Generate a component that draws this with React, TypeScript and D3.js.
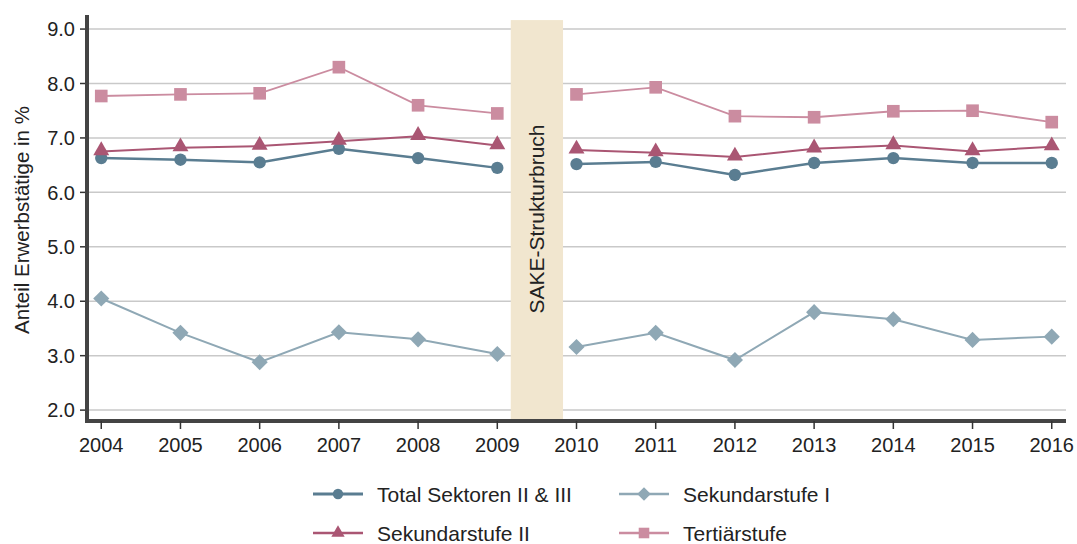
import * as d3 from 'd3'

const years = [2004, 2005, 2006, 2007, 2008, 2009, 2010, 2011, 2012, 2013, 2014, 2015, 2016]
const total = [6.63, 6.6, 6.55, 6.8, 6.63, 6.45, 6.52, 6.56, 6.32, 6.54, 6.63, 6.54, 6.54]
const sek1 = [4.05, 3.42, 2.88, 3.43, 3.3, 3.03, 3.16, 3.42, 2.92, 3.8, 3.67, 3.29, 3.35]
const sek2 = [6.75, 6.82, 6.85, 6.94, 7.03, 6.86, 6.78, 6.73, 6.65, 6.8, 6.86, 6.75, 6.84]
const tert = [7.77, 7.8, 7.82, 8.3, 7.6, 7.45, 7.8, 7.93, 7.4, 7.38, 7.49, 7.5, 7.29]
const yTicks = [2, 3, 4, 5, 6, 7, 8, 9]
const breakRange = [2009.17, 2009.83]

// diamond = square turned by 45°
const series = [
  { name: 'Total Sektoren II & III', values: total, color: '#5a7d91', symbol: d3.symbolCircle, size: 120, width: 2.5, rot: 0 },
  { name: 'Sekundarstufe I', values: sek1, color: '#8fa8b5', symbol: d3.symbolSquare, size: 130, width: 2, rot: 45 },
  { name: 'Sekundarstufe II', values: sek2, color: '#aa5673', symbol: d3.symbolTriangle, size: 110, width: 2, rot: 0 },
  { name: 'Tertiärstufe', values: tert, color: '#cb8ca0', symbol: d3.symbolSquare, size: 160, width: 1.8, rot: 0 },
]

const FONT = '"Liberation Sans", Arial, sans-serif'

export default function App() {
  const W = 1077
  const H = 544
  const margin = { left: 87, right: 11, top: 16, bottom: 123 }
  const x = d3.scaleLinear().domain([2003.82, 2016.18]).range([margin.left, W - margin.right])
  const y = d3.scaleLinear().domain([1.8, 9.24]).range([H - margin.bottom, margin.top])

  // two pieces, broken at the SAKE structural break
  const segs = [
    [0, 6],
    [6, 13],
  ]

  const legend = [
    { s: series[0], lx: 313, ly: 494 },
    { s: series[1], lx: 619, ly: 494 },
    { s: series[2], lx: 313, ly: 533 },
    { s: series[3], lx: 619, ly: 533 },
  ]

  const axisY = y(1.8)
  const bx0 = x(breakRange[0])
  const bx1 = x(breakRange[1])

  return (
    <svg width={W} height={H} style={{ position: 'absolute', left: 0, top: 0, background: '#fff' }} fontFamily={FONT}>
      {yTicks.map((t) => (
        <g key={t}>
          <line x1={margin.left} x2={W - margin.right} y1={y(t)} y2={y(t)} stroke="#c9c9c9" strokeWidth={1.5} />
          <line x1={margin.left - 7} x2={margin.left} y1={y(t)} y2={y(t)} stroke="#333" strokeWidth={1.5} />
          <text x={margin.left - 12} y={y(t)} dy="0.36em" textAnchor="end" fontSize={20} fill="#222">
            {t.toFixed(1)}
          </text>
        </g>
      ))}

      <rect x={bx0} y={y(9.165)} width={bx1 - bx0} height={axisY - 2 - y(9.165)} fill="#f1e6cf" />
      <text
        transform={`translate(${(bx0 + bx1) / 2},219) rotate(-90)`}
        textAnchor="middle"
        dy="0.36em"
        fontSize={21}
        fill="#222"
      >
        SAKE-Strukturbruch
      </text>

      {series.map((s) => (
        <g key={s.name}>
          {segs.map(([a, b]) => {
            const line = d3
              .line<number>()
              .x((_, i) => x(years[a + i]))
              .y((d) => y(d))
            return <path key={a} d={line(s.values.slice(a, b)) || ''} fill="none" stroke={s.color} strokeWidth={s.width} />
          })}
          {s.values.map((v, i) => (
            <path
              key={i}
              d={d3.symbol(s.symbol, s.size)() || ''}
              transform={`translate(${x(years[i])},${y(v) - (s.symbol === d3.symbolTriangle ? 1 : 0)}) rotate(${s.rot})`}
              fill={s.color}
            />
          ))}
        </g>
      ))}

      <line x1={margin.left} x2={margin.left} y1={margin.top - 1} y2={axisY + 2} stroke="#444" strokeWidth={4} />
      <line x1={margin.left - 2} x2={W - margin.right} y1={axisY} y2={axisY} stroke="#444" strokeWidth={4} />
      {years.map((yr) => (
        <g key={yr}>
          <line x1={x(yr)} x2={x(yr)} y1={axisY} y2={axisY + 8} stroke="#333" strokeWidth={1.5} />
          <text x={x(yr)} y={axisY + 31} textAnchor="middle" fontSize={20} fill="#222">
            {yr}
          </text>
        </g>
      ))}

      <text
        transform={`translate(22,220) rotate(-90)`}
        textAnchor="middle"
        dy="0.36em"
        fontSize={20.5}
        fill="#222"
      >
        Anteil Erwerbstätige in %
      </text>

      {legend.map(({ s, lx, ly }) => (
        <g key={s.name}>
          <line x1={lx} x2={lx + 50} y1={ly} y2={ly} stroke={s.color} strokeWidth={s.width + 0.5} />
          <path
            d={d3.symbol(s.symbol, s.size * 0.7)() || ''}
            transform={`translate(${lx + 25},${ly}) rotate(${s.rot})`}
            fill={s.color}
          />
          <text x={lx + 64} y={ly} dy="0.36em" fontSize={21} fill="#222">
            {s.name}
          </text>
        </g>
      ))}
    </svg>
  )
}
